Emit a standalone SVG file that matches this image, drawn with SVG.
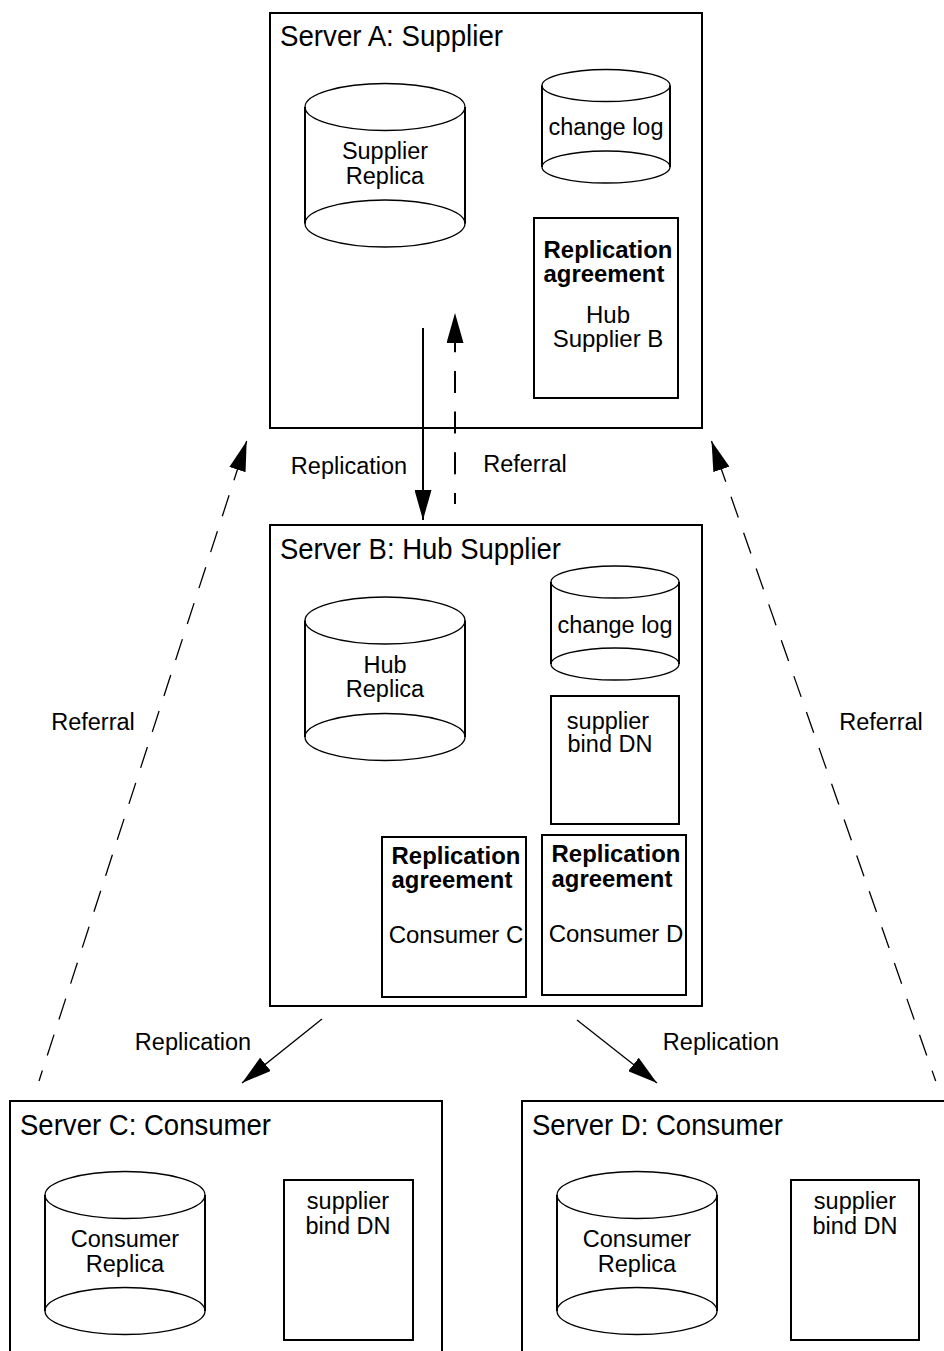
<svg xmlns="http://www.w3.org/2000/svg" width="944" height="1351" viewBox="0 0 944 1351">
<style>
text{font-family:"Liberation Sans",Arial,sans-serif;font-size:23.5px;fill:#000;text-anchor:middle}
.t{font-size:29px;text-anchor:start}
.w{font-size:24px}
.b{font-weight:bold;font-size:23.9px}
.box{fill:none;stroke:#000;stroke-width:2}
.el{fill:none;stroke:#000;stroke-width:1.3}
.side{fill:none;stroke:#000;stroke-width:2}
.thin{fill:none;stroke:#000;stroke-width:1.3}
.thick{fill:none;stroke:#000;stroke-width:2}
</style>
<defs>
<marker id="ah" viewBox="0 0 30 17" refX="30" refY="8.500" markerWidth="30" markerHeight="17" markerUnits="userSpaceOnUse" orient="auto"><path d="M0 0L30 8.500L0 17Z" fill="#000"/></marker>
</defs>
<g id="connectors">
<path class="thick" d="M423 328V520" marker-end="url(#ah)"/>
<path class="thick" stroke-dasharray="22 18.700" stroke-dashoffset="11" d="M455 504V313" marker-end="url(#ah)"/>
<path class="thin" stroke-dasharray="22 15.800" stroke-dashoffset="11" d="M39 1081L246.700 441" marker-end="url(#ah)"/>
<path class="thin" stroke-dasharray="22 16" stroke-dashoffset="11" d="M935.700 1081L711.500 441" marker-end="url(#ah)"/>
<path class="thin" d="M322 1019L242 1083" marker-end="url(#ah)"/>
<path class="thin" d="M577 1020L657 1083" marker-end="url(#ah)"/>
<text x="349" y="474">Replication</text>
<text x="525" y="472">Referral</text>
<text x="93" y="730">Referral</text>
<text x="881" y="730">Referral</text>
<text x="193" y="1050">Replication</text>
<text x="721" y="1050">Replication</text>
</g>
<g id="server-a">
<rect class="box" x="270" y="13" width="432" height="415"/>
<text class="t" x="280" y="46" textLength="223" lengthAdjust="spacingAndGlyphs">Server A: Supplier</text>
<ellipse class="el" cx="385" cy="107" rx="80" ry="23.500"/>
<ellipse class="el" cx="385" cy="223.500" rx="80" ry="23.500"/>
<path class="side" d="M305 107V223.500M465 107V223.500"/>
<text x="385" y="159">Supplier</text>
<text x="385" y="184">Replica</text>
<ellipse class="el" cx="606" cy="85.500" rx="64" ry="16"/>
<ellipse class="el" cx="606" cy="167" rx="64" ry="16"/>
<path class="side" d="M542 85.500V167M670 85.500V167"/>
<text x="606" y="135">change log</text>
<rect class="box" x="534" y="218" width="144" height="180"/>
<text class="b" x="608" y="258">Replication</text>
<text class="b" x="604" y="282">agreement</text>
<text class="w" x="608" y="323">Hub</text>
<text class="w" x="608" y="347">Supplier B</text>
</g>
<g id="server-b">
<rect class="box" x="270" y="525" width="432" height="481"/>
<text class="t" x="280" y="559" textLength="281" lengthAdjust="spacingAndGlyphs">Server B: Hub Supplier</text>
<ellipse class="el" cx="385" cy="620.500" rx="80" ry="23.500"/>
<ellipse class="el" cx="385" cy="737" rx="80" ry="23.500"/>
<path class="side" d="M305 620.500V737M465 620.500V737"/>
<text x="385" y="673">Hub</text>
<text x="385" y="697">Replica</text>
<ellipse class="el" cx="615" cy="582" rx="64" ry="16"/>
<ellipse class="el" cx="615" cy="664" rx="64" ry="16"/>
<path class="side" d="M551 582V664M679 582V664"/>
<text x="615" y="633">change log</text>
<rect class="box" x="551" y="696" width="128" height="128"/>
<text x="608" y="729">supplier</text>
<text x="610" y="752">bind DN</text>
<rect class="box" x="382" y="837" width="144" height="160"/>
<text class="b" x="456" y="864">Replication</text>
<text class="b" x="452" y="888">agreement</text>
<text class="w" x="456" y="943">Consumer C</text>
<rect class="box" x="542" y="835" width="144" height="160"/>
<text class="b" x="616" y="862">Replication</text>
<text class="b" x="612" y="887">agreement</text>
<text class="w" x="616" y="942">Consumer D</text>
</g>
<g id="server-c">
<path class="box" d="M10 1351V1101H442V1351"/>
<text class="t" x="20" y="1134.500" textLength="251" lengthAdjust="spacingAndGlyphs">Server C: Consumer</text>
<ellipse class="el" cx="125" cy="1195" rx="80" ry="23.500"/>
<ellipse class="el" cx="125" cy="1311" rx="80" ry="23.500"/>
<path class="side" d="M45 1195V1311M205 1195V1311"/>
<text x="125" y="1247">Consumer</text>
<text x="125" y="1272">Replica</text>
<rect class="box" x="284" y="1180" width="129" height="160"/>
<text x="348" y="1209">supplier</text>
<text x="348" y="1234">bind DN</text>
</g>
<g id="server-d">
<path class="box" d="M522 1351V1101H944"/>
<text class="t" x="532" y="1134.500" textLength="251" lengthAdjust="spacingAndGlyphs">Server D: Consumer</text>
<ellipse class="el" cx="637" cy="1195" rx="80" ry="23.500"/>
<ellipse class="el" cx="637" cy="1311" rx="80" ry="23.500"/>
<path class="side" d="M557 1195V1311M717 1195V1311"/>
<text x="637" y="1247">Consumer</text>
<text x="637" y="1272">Replica</text>
<rect class="box" x="791" y="1180" width="128" height="160"/>
<text x="855" y="1209">supplier</text>
<text x="855" y="1234">bind DN</text>
</g>
</svg>
